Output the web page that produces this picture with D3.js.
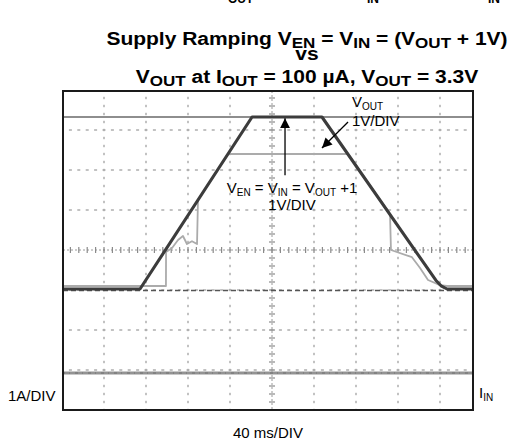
<!DOCTYPE html>
<html><head><meta charset="utf-8">
<script src="https://cdn.jsdelivr.net/npm/d3@7"></script>
<style>
html,body{margin:0;padding:0;background:#fff;}
svg{display:block;font-family:"Liberation Sans",Arial,Helvetica,sans-serif;}
</style></head><body>
<svg id="chart" width="515" height="442"></svg>
<script>
// Horizontal time base: 40 ms per division
const timeTicks = [-200, -160, -120, -80, -40, 0, 40, 80, 120, 160, 200];
// Vertical divisions
const divTicks = [-4, -3, -2, -1, 0, 1, 2, 3, 4];

// Channel 1: V_EN = V_IN, 1 V/div
const vinTime  = [-200, -125.7, -19.0, 47.6, 156.0, 161.0, 166.7, 200];
const vinVolts = [0, 0, 4.3, 4.3, 0.22, 0.08, 0, 0];
const vinRefLevel = [4.3];

// Channel 2: V_OUT, 1 V/div
const voutTime  = [-200, -101.0, -100.9, -95.2, -89.5, -84.8, -81.0, -76.2, -71.4, -70.5, -41.9, 72.4, 112.4, 113.3, 133.3, 141.0, 148.6, 160.0, 166.7, 200];
const voutVolts = [0, 0, 0.85, 0.95, 1.15, 1.25, 1.05, 1.12, 1.05, 2.15, 3.3, 3.3, 1.8, 0.9, 0.72, 0.45, 0.15, 0.02, 0, 0];

// Channel 3: I_IN, 1 A/div
const iinTime = [-200, 200];
const iinAmps = [0, 0];

// Screen offsets of each channel's ground, in divisions
const vinOffset = -0.975, voutOffset = -0.9, iinOffset = -3.075;

const svg = d3.select("#chart");
const plot = {left: 63, right: 473, top: 91, bottom: 410};

const x = d3.scaleLinear().domain([-200, 200]).range([62, 482]);
const yDiv = d3.scaleLinear().domain([-4, 4]).range([410, 90]);
const yVin = v => yDiv(v / 1 + vinOffset);
const yVout = v => yDiv(v / 1 + voutOffset);
const yIin = a => yDiv(a / 1 + iinOffset);

svg.append("defs").append("clipPath").attr("id", "frameClip")
  .append("rect").attr("x", plot.left).attr("y", plot.top)
  .attr("width", plot.right - plot.left).attr("height", plot.bottom - plot.top);

const grid = svg.append("g").attr("clip-path", "url(#frameClip)");
const minorT = d3.range(-200, 200.01, 8);
const minorD = d3.range(-4, 4.001, 0.2);

// dotted division lines
timeTicks.filter(t => t !== 0).forEach(t => {
  grid.selectAll(null).data(minorD).enter().append("rect")
    .attr("x", x(t) - 0.7).attr("y", d => yDiv(d) - 1.2)
    .attr("width", 1.4).attr("height", 2.4).attr("fill", "#a8a8a8");
});
divTicks.filter(d => d !== 0).forEach(dv => {
  grid.selectAll(null).data(minorT).enter().append("rect")
    .attr("x", t => x(t) - 1.5).attr("y", yDiv(dv) - 0.7)
    .attr("width", 3).attr("height", 1.4).attr("fill", "#a8a8a8");
});
// centre axes with minor ticks
grid.append("line").attr("x1", x(0)).attr("x2", x(0)).attr("y1", plot.top).attr("y2", plot.bottom)
  .attr("stroke", "#9a9a9a").attr("stroke-width", 1).attr("stroke-dasharray", "2,2");
grid.append("line").attr("x1", plot.left).attr("x2", plot.right).attr("y1", yDiv(0)).attr("y2", yDiv(0))
  .attr("stroke", "#9a9a9a").attr("stroke-width", 1).attr("stroke-dasharray", "2,2");
grid.selectAll(null).data(minorD).enter().append("line")
  .attr("x1", x(0) - 3).attr("x2", x(0) + 3).attr("y1", d => yDiv(d)).attr("y2", d => yDiv(d))
  .attr("stroke", "#8a8a8a").attr("stroke-width", 1.2);
grid.selectAll(null).data(minorT).enter().append("line")
  .attr("x1", t => x(t)).attr("x2", t => x(t)).attr("y1", yDiv(0) - 3).attr("y2", yDiv(0) + 3)
  .attr("stroke", "#8a8a8a").attr("stroke-width", 1.2);

// V_IN ground marker
grid.append("line").attr("x1", plot.left).attr("x2", plot.right)
  .attr("y1", yVin(0) + 1.5).attr("y2", yVin(0) + 1.5)
  .attr("stroke", "#555").attr("stroke-width", 1.3).attr("stroke-dasharray", "5,3");

const traces = svg.append("g").attr("clip-path", "url(#frameClip)");
const line = (xs, ys, yf) => d3.line().x((d, i) => x(xs[i])).y((d, i) => yf(ys[i]))(xs);

// I_IN
traces.append("path").attr("d", line(iinTime, iinAmps, yIin))
  .attr("fill", "none").attr("stroke", "#939393").attr("stroke-width", 3);
traces.append("path").attr("d", line(iinTime, iinAmps, yIin))
  .attr("fill", "none").attr("stroke", "#707070").attr("stroke-width", 1).attr("stroke-dasharray", "3,4,1,5");

// V_IN level reference
traces.selectAll(null).data(vinRefLevel).enter().append("line")
  .attr("x1", plot.left).attr("x2", plot.right).attr("y1", d => yVin(d)).attr("y2", d => yVin(d))
  .attr("stroke", "#8e8e8e").attr("stroke-width", 2.2);

// V_OUT
traces.append("path").attr("d", line(voutTime, voutVolts, yVout))
  .attr("fill", "none").attr("stroke", "#ababab").attr("stroke-width", 1.8).attr("stroke-linejoin", "round");

// V_EN = V_IN
traces.append("path").attr("d", line(vinTime, vinVolts, yVin))
  .attr("fill", "none").attr("stroke", "#3c3c3c").attr("stroke-width", 3.1).attr("stroke-linejoin", "round");

// frame
svg.append("rect").attr("x", plot.left).attr("y", plot.top)
  .attr("width", plot.right - plot.left).attr("height", plot.bottom - plot.top)
  .attr("fill", "none").attr("stroke", "#1a1a1a").attr("stroke-width", 2);

// annotation arrows
const defs = svg.select("defs");
defs.append("marker").attr("id", "arrowHead").attr("viewBox", "0 0 10 10")
  .attr("refX", 10).attr("refY", 5).attr("markerWidth", 10).attr("markerHeight", 10)
  .attr("markerUnits", "userSpaceOnUse").attr("orient", "auto")
  .append("path").attr("d", "M0,0 L10,5 L0,10 Z").attr("fill", "#000");

svg.append("line").attr("x1", x(12.4)).attr("x2", x(12.4))
  .attr("y1", yDiv(1.87)).attr("y2", yVin(4.27))
  .attr("stroke", "#000").attr("stroke-width", 1.3).attr("marker-end", "url(#arrowHead)");
svg.append("line").attr("x1", x(72.4)).attr("y1", yVout(4.1))
  .attr("x2", x(47.6)).attr("y2", yVout(3.45))
  .attr("stroke", "#000").attr("stroke-width", 1.3).attr("marker-end", "url(#arrowHead)");

// text with subscripts
function label(parent, xp, yp, parts, opts) {
  const t = parent.append("text").attr("x", xp).attr("y", yp)
    .attr("text-anchor", opts.anchor || "start")
    .attr("font-size", opts.size).attr("font-weight", opts.weight || "normal").attr("fill", "#000");
  let shift = 0;
  parts.forEach(p => {
    const sub = Array.isArray(p);
    const target = sub ? opts.subDy : 0;
    t.append("tspan").attr("dy", target - shift).attr("font-size", sub ? opts.subSize : opts.size).text(sub ? p[0] : p);
    shift = target;
  });
  return t;
}

// title, set in a slightly widened bold face
const titleG = svg.append("g").attr("transform", "translate(307,0) scale(1.135,1)");
const tOpts = {anchor: "middle", size: 18.5, subSize: 15, subDy: 3.5, weight: "bold"};
label(titleG, 0, 45, ["Supply Ramping V", ["EN"], " = V", ["IN"], " = (V", ["OUT"], " + 1V)"], tOpts);
label(titleG, 0, 60.5, ["vs"], tOpts);
label(titleG, 0, 83, ["V", ["OUT"], " at I", ["OUT"], " = 100 \u00b5A, V", ["OUT"], " = 3.3V"], tOpts);

// clipped caption line above the title
[["OUT", 228], ["IN", 367], ["IN", 488]].forEach(([s, px]) => {
  svg.append("text").attr("x", px).attr("y", 3).attr("font-size", 12).attr("font-weight", "bold").text(s);
});

const lOpts = {size: 15, subSize: 10, subDy: 3};
const mid = Object.assign({}, lOpts, {anchor: "middle"});
label(svg, 352, 107, ["V", ["OUT"]], lOpts);
label(svg, 352, 126, ["1V/DIV"], lOpts);
label(svg, 292, 193, ["V", ["EN"], " = V", ["IN"], " = V", ["OUT"], " +1"], mid);
label(svg, 292, 210, ["1V/DIV"], mid);
label(svg, 8, 401, ["1A/DIV"], lOpts);
label(svg, 479, 398, ["I", ["IN"]], lOpts);
label(svg, 268, 438, ["40 ms/DIV"], mid);
</script>
</body></html>
